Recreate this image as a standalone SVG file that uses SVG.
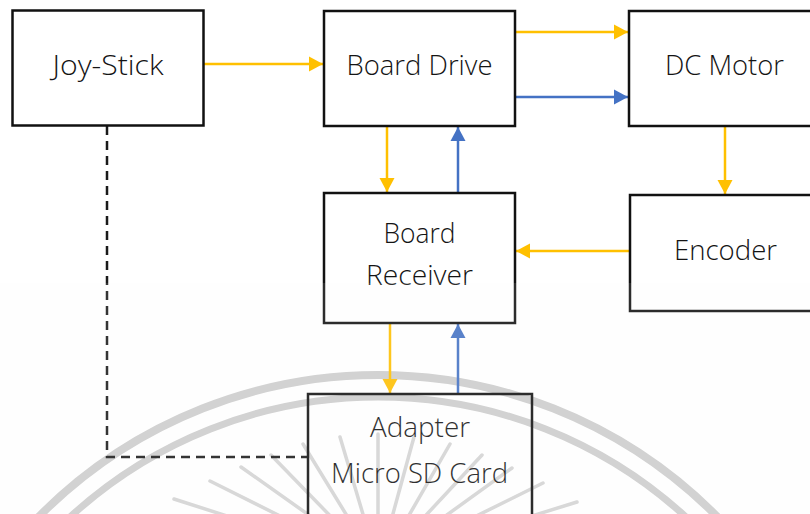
<svg xmlns="http://www.w3.org/2000/svg" width="810" height="514" viewBox="0 0 810 514">
  <style>
    .box { fill: none; stroke: #111111; stroke-width: 2.5; }
    .label { font-family: "Open Sans", "Noto Sans", "DejaVu Sans", sans-serif; font-weight: 350; font-size: 27px; fill: #141414; text-anchor: middle; }
    .yellow { fill: none; stroke: #FFC000; stroke-width: 2.5; marker-end: url(#headY); }
    .blue { fill: none; stroke: #4472C4; stroke-width: 2.5; marker-end: url(#headB); }
    .dash { fill: none; stroke: #1a1a1a; stroke-width: 2.5; stroke-dasharray: 9 6; }
    .ring { fill: none; stroke: #cdcdcd; }
    .ray { stroke: #d4d4d4; stroke-width: 3.5; stroke-linecap: round; }
  </style>
  <defs>
    <marker id="headY" markerUnits="userSpaceOnUse" markerWidth="15" markerHeight="16" refX="14" refY="8" orient="auto">
      <path d="M0,0.5 L14,8 L0,15.5 z" fill="#FFC000"/>
    </marker>
    <marker id="headB" markerUnits="userSpaceOnUse" markerWidth="15" markerHeight="16" refX="14" refY="8" orient="auto">
      <path d="M0,0.5 L14,8 L0,15.5 z" fill="#4472C4"/>
    </marker>
  </defs>

  <rect width="810" height="514" fill="#ffffff"/>

  <!-- faint emblem in the background -->
  <g id="emblem">
    <circle class="ring" cx="378" cy="852" r="477" stroke-width="8"/>
    <circle class="ring" cx="378" cy="852" r="455" stroke-width="7"/>
    <line class="ray" x1="174" y1="499" x2="308" y2="542"/>
    <line class="ray" x1="210" y1="481" x2="320" y2="536"/>
    <line class="ray" x1="241" y1="467" x2="330" y2="530"/>
    <line class="ray" x1="271" y1="455" x2="341" y2="527"/>
    <line class="ray" x1="303" y1="444" x2="352" y2="524"/>
    <line class="ray" x1="340" y1="437" x2="365" y2="521"/>
    <line class="ray" x1="378" y1="434" x2="378" y2="520"/>
    <line class="ray" x1="414" y1="437" x2="391" y2="521"/>
    <line class="ray" x1="450" y1="444" x2="404" y2="524"/>
    <line class="ray" x1="482" y1="455" x2="415" y2="527"/>
    <line class="ray" x1="512" y1="468" x2="426" y2="530"/>
    <line class="ray" x1="543" y1="483" x2="436" y2="536"/>
    <line class="ray" x1="577" y1="502" x2="448" y2="542"/>
  </g>

  <!-- connectors -->
  <g id="connectors">
    <path class="yellow" d="M203,64 H323"/>
    <path class="yellow" d="M515,32 H628"/>
    <path class="blue" d="M515,97 H628"/>
    <path class="yellow" d="M387,126 V192"/>
    <path class="blue" d="M458,193 V127"/>
    <path class="yellow" d="M725,126 V194"/>
    <path class="yellow" d="M630,251 H516"/>
    <path class="yellow" d="M390,323 V393"/>
    <path class="blue" d="M458,394 V324"/>
    <path class="dash" d="M107,126 V457 H307"/>
  </g>

  <g id="joystick">
    <rect class="box" x="12.5" y="10.5" width="191" height="115"/>
    <text class="label" x="108" y="75" textLength="111" lengthAdjust="spacingAndGlyphs">Joy-Stick</text>
  </g>

  <g id="board-drive">
    <rect class="box" x="324" y="11" width="191" height="115"/>
    <text class="label" x="419.5" y="75" textLength="146" lengthAdjust="spacingAndGlyphs">Board Drive</text>
  </g>

  <g id="dc-motor">
    <rect class="box" x="629" y="11" width="200" height="115"/>
    <text class="label" x="724.5" y="75" textLength="119" lengthAdjust="spacingAndGlyphs">DC Motor</text>
  </g>

  <g id="encoder">
    <rect class="box" x="630" y="195" width="200" height="116"/>
    <text class="label" x="725.5" y="260" textLength="103" lengthAdjust="spacingAndGlyphs">Encoder</text>
  </g>

  <g id="board-receiver">
    <rect class="box" x="324" y="193" width="191" height="130"/>
    <text class="label" x="419.5" y="243" textLength="72" lengthAdjust="spacingAndGlyphs">Board</text>
    <text class="label" x="419.5" y="285" textLength="107" lengthAdjust="spacingAndGlyphs">Receiver</text>
  </g>

  <g id="adapter">
    <rect class="box" x="308" y="394" width="224" height="140"/>
    <text class="label" x="420" y="437" textLength="100" lengthAdjust="spacingAndGlyphs">Adapter</text>
    <text class="label" x="419.5" y="483" textLength="177" lengthAdjust="spacingAndGlyphs">Micro SD Card</text>
  </g>

  <!-- light wash over the lower part -->
  <rect x="0" y="283" width="810" height="231" fill="#f8f8f8" opacity="0.12"/>
</svg>
